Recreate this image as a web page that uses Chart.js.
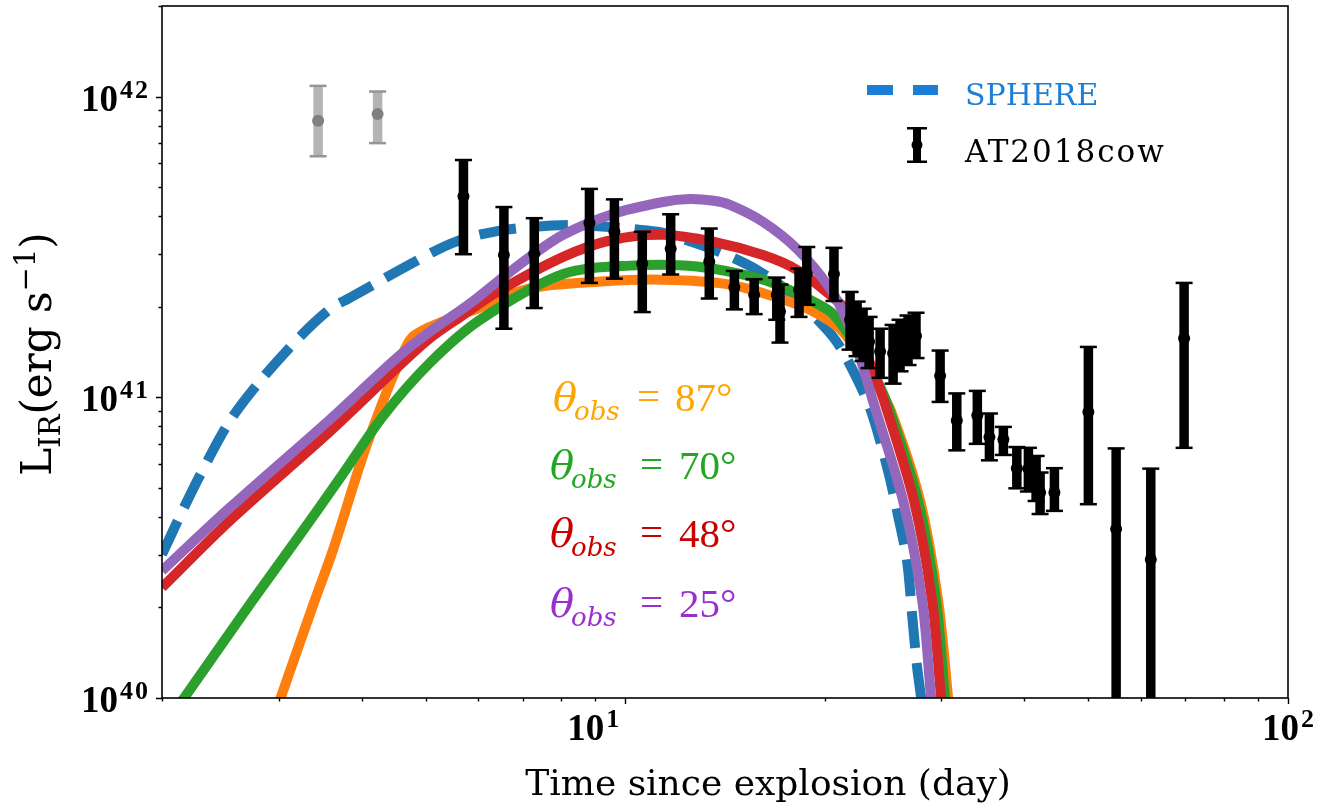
<!DOCTYPE html>
<html><head><meta charset="utf-8">
<script src="https://cdn.jsdelivr.net/npm/chart.js@4/dist/chart.umd.min.js"></script>
<style>html,body{margin:0;padding:0;background:#fff;}#wrap{width:1336px;height:808px;position:relative;}</style>
</head><body><div id="wrap"><canvas id="c" width="1336" height="808"></canvas></div>
<script>
// ---------------- data ----------------
const obsDays = [5.70, 6.56, 7.29, 8.83, 9.63, 10.61, 11.71, 13.39, 14.61, 15.65, 16.93, 17.12, 18.29, 18.79, 20.65, 21.84, 22.38, 22.85, 23.33, 24.24, 25.36, 25.98, 26.71, 27.46, 29.86, 31.64, 33.98, 35.44, 37.20, 38.98, 40.58, 41.68, 42.26, 44.42, 49.98, 55.04, 62.08, 69.70];
const obsLum = [4.66e41, 2.97e41, 3.00e41, 3.80e41, 3.55e41, 2.78e41, 3.12e41, 2.82e41, 2.32e41, 2.19e41, 2.19e41, 1.93e41, 2.28e41, 2.57e41, 2.57e41, 1.81e41, 1.72e41, 1.63e41, 1.53e41, 1.42e41, 1.40e41, 1.49e41, 1.56e41, 1.60e41, 1.18e41, 8.37e40, 8.72e40, 7.37e40, 7.24e40, 5.81e40, 5.78e40, 5.27e40, 4.82e40, 4.82e40, 8.94e40, 3.65e40, 2.89e40, 1.57e41];
const obsLow = [2.99e41, 1.69e41, 1.98e41, 2.40e41, 2.48e41, 1.92e41, 2.56e41, 2.13e41, 1.96e41, 1.89e41, 1.81e41, 1.52e41, 1.85e41, 2.03e41, 2.09e41, 1.44e41, 1.37e41, 1.32e41, 1.25e41, 1.16e41, 1.11e41, 1.22e41, 1.28e41, 1.35e41, 9.65e40, 6.66e40, 7.00e40, 6.17e40, 6.43e40, 4.98e40, 4.86e40, 4.52e40, 4.09e40, 4.19e40, 4.41e40, 5.4e39, 1.0e39, 6.79e40];
const obsHigh = [6.15e41, 4.29e41, 3.94e41, 4.93e41, 4.55e41, 3.55e41, 4.06e41, 3.64e41, 2.63e41, 2.47e41, 2.50e41, 2.37e41, 2.68e41, 3.16e41, 3.14e41, 2.24e41, 2.08e41, 1.97e41, 1.85e41, 1.69e41, 1.74e41, 1.81e41, 1.87e41, 1.91e41, 1.43e41, 1.03e41, 1.05e41, 8.83e40, 7.97e40, 6.83e40, 6.79e40, 6.38e40, 5.62e40, 5.81e40, 1.47e41, 6.76e40, 5.79e40, 2.40e41];

const earlyDays = [3.44, 4.23];
const earlyLum = [8.31e41, 8.74e41];
const earlyLow = [6.33e41, 7.00e41];
const earlyHigh = [1.085e42, 1.039e42];

const sphereDays = [2.0, 2.13, 2.28, 2.53, 2.81, 3.23, 3.59, 3.84, 4.57, 5.20, 5.70, 6.41, 7.18, 8.25, 9.48, 11.17, 12.23, 13.90, 15.81, 17.92, 19.20, 20.58, 21.61, 23.41, 24.92, 25.80, 26.62, 27.08, 27.56, 27.96, 28.4];
const sphereLum = [3.0e40, 4.04e40, 5.48e40, 8.33e40, 1.13e41, 1.59e41, 1.97e41, 2.14e41, 2.65e41, 3.09e41, 3.36e41, 3.57e41, 3.68e41, 3.74e41, 3.68e41, 3.55e41, 3.36e41, 3.04e41, 2.65e41, 2.19e41, 1.88e41, 1.59e41, 1.34e41, 9.19e40, 5.69e40, 4.04e40, 2.86e40, 1.91e40, 1.27e40, 1.0e40, 7.5e39];

const th25Days = [2.0, 2.53, 3.59, 4.52, 5.07, 5.83, 6.41, 7.18, 8.06, 9.58, 11.40, 12.50, 13.60, 14.39, 16.14, 18.17, 20.37, 21.61, 22.62, 23.65, 26.26, 28.06, 28.94, 29.3];
const th25Lum = [2.65e40, 4.29e40, 8.46e40, 1.35e41, 1.65e41, 2.05e41, 2.42e41, 2.93e41, 3.47e41, 4.07e41, 4.46e41, 4.56e41, 4.50e41, 4.36e41, 3.83e41, 3.11e41, 2.30e41, 1.79e41, 1.35e41, 9.70e40, 4.52e40, 2.11e40, 1.0e40, 7.7e39];

const th48Days = [2.0, 2.53, 3.59, 4.52, 5.07, 5.70, 6.41, 8.06, 9.58, 11.40, 13.57, 16.14, 18.17, 20.37, 21.61, 23.25, 24.58, 27.27, 29.04, 29.96, 30.3];
const th48Lum = [2.33e40, 3.88e40, 7.72e40, 1.25e41, 1.57e41, 1.88e41, 2.24e41, 2.93e41, 3.34e41, 3.47e41, 3.29e41, 2.97e41, 2.65e41, 2.19e41, 1.93e41, 1.35e41, 9.70e40, 4.52e40, 2.11e40, 1.0e40, 7.7e39];

const th70Days = [2.0, 2.16, 2.74, 3.20, 3.75, 4.31, 5.07, 6.04, 8.06, 10.17, 12.83, 16.14, 18.17, 20.37, 21.31, 23.58, 24.92, 27.66, 29.44, 30.37, 31.0];
const th70Lum = [7.9e39, 1.0e40, 2.11e40, 3.39e40, 5.56e40, 8.65e40, 1.30e41, 1.81e41, 2.57e41, 2.74e41, 2.72e41, 2.46e41, 2.21e41, 1.93e41, 1.72e41, 1.22e41, 9.34e40, 4.52e40, 2.11e40, 1.0e40, 6.2e39];

const th87Days = [2.95, 3.02, 3.40, 3.62, 4.02, 4.31, 4.52, 4.78, 5.38, 5.98, 7.18, 9.07, 11.40, 14.39, 17.12, 19.20, 21.31, 23.82, 25.18, 27.86, 29.65, 30.70, 31.3];
const th87Lum = [8.6e39, 1.0e40, 2.11e40, 3.09e40, 6.38e40, 9.70e40, 1.25e41, 1.59e41, 1.81e41, 1.97e41, 2.30e41, 2.42e41, 2.46e41, 2.37e41, 2.13e41, 1.93e41, 1.65e41, 1.13e41, 8.99e40, 4.52e40, 2.11e40, 1.0e40, 6.2e39];

const xTickValues = [10, 100];
const xTickExps = ['1', '2'];
const yTickValues = [1e40, 1e41, 1e42];
const yTickExps = ['40', '41', '42'];
const angleLabels = ['87°', '70°', '48°', '25°'];
const angleColors = ['#ffa500', '#22a722', '#c80000', '#9a2fcf'];
const xTitle = 'Time since explosion (day)';

// ---------------- helpers ----------------
const pts = (xs, ys) => xs.map((x, i) => ({x: x, y: ys[i]}));
function lineDs(label, xs, ys, color, order, dash) {
  return {label, data: pts(xs, ys), showLine: true, borderColor: color, backgroundColor: color,
    borderWidth: 10, pointRadius: 0, borderCapStyle: 'butt', borderJoinStyle: 'round',
    tension: 0.3, borderDash: dash || [], clip: 0, order};
}

const errPlugin = {
  id: 'errbars',
  beforeDatasetDraw(chart, args) {
    const ds = chart.data.datasets[args.index];
    if (!ds.errLow) return;
    const xs = chart.scales.x, ys = chart.scales.y, ca = chart.chartArea, ctx = chart.ctx;
    ctx.save();
    ctx.beginPath(); ctx.rect(ca.left, ca.top, ca.right - ca.left, ca.bottom - ca.top); ctx.clip();
    ds.data.forEach((p, i) => {
      const px = xs.getPixelForValue(p.x);
      const y1 = ys.getPixelForValue(ds.errLow[i]);
      const y2 = ys.getPixelForValue(ds.errHigh[i]);
      ctx.fillStyle = ds.barColor;
      ctx.fillRect(px - 4.75, y2, 9.5, y1 - y2);
      ctx.fillStyle = ds.capColor;
      ctx.fillRect(px - 8.5, y2 - 1.25, 17, 2.5);
      ctx.fillRect(px - 8.5, y1 - 1.25, 17, 2.5);
    });
    ctx.restore();
  }
};

function drawPow(ctx, base, exp, x, baseY, supY, align) {
  ctx.font = 'bold 37px "Liberation Serif"';
  const wb = ctx.measureText(base).width;
  ctx.font = 'bold 26px "Liberation Serif"';
  const we = ctx.measureText(exp).width + 2 + (exp.length - 1) * 2;
  let left = x;
  if (align === 'right') left = x - wb - we;
  else if (align === 'center') left = x - (wb + we) / 2;
  ctx.textAlign = 'left'; ctx.textBaseline = 'alphabetic';
  ctx.font = 'bold 37px "Liberation Serif"';
  ctx.fillText(base, left, baseY);
  ctx.font = 'bold 26px "Liberation Serif"';
  let cx = left + wb + 2;
  for (const ch of exp) { ctx.fillText(ch, cx, supY); cx += ctx.measureText(ch).width + 2; }
}

const decorPlugin = {
  id: 'decor',
  afterDraw(chart) {
    const ctx = chart.ctx, ca = chart.chartArea, xs = chart.scales.x, ys = chart.scales.y;
    ctx.save();
    ctx.fillStyle = '#000'; ctx.strokeStyle = '#000';
    ctx.lineWidth = 1.6;
    ctx.strokeRect(ca.left, ca.top, ca.right - ca.left, ca.bottom - ca.top);
    ctx.lineWidth = 1.4;
    ctx.beginPath();
    for (let e = 40; e <= 42; e++) {
      for (let m = 1; m <= 9; m++) {
        const v = m * Math.pow(10, e);
        if (v < ys.min * 0.999 || v > ys.max * 1.001) continue;
        const py = Math.round(ys.getPixelForValue(v)) + 0.5;
        const len = m === 1 ? 6 : 3.5;
        ctx.moveTo(ca.left, py); ctx.lineTo(ca.left - len, py);
      }
    }
    for (let e = 0; e <= 2; e++) {
      for (let m = 1; m <= 9; m++) {
        const v = m * Math.pow(10, e);
        if (v < xs.min * 0.999 || v > xs.max * 1.001) continue;
        const px = Math.round(xs.getPixelForValue(v)) + 0.5;
        const len = m === 1 ? 6 : 3.5;
        ctx.moveTo(px, ca.bottom); ctx.lineTo(px, ca.bottom + len);
      }
    }
    ctx.stroke();
    yTickValues.forEach((v, i) => {
      const py = ys.getPixelForValue(v);
      drawPow(ctx, '10', yTickExps[i], ca.left - 14, py + 14, py + 1, 'right');
    });
    const xLabelShift = [-32, 0];
    xTickValues.forEach((v, i) => {
      const px = xs.getPixelForValue(v) + xLabelShift[i];
      drawPow(ctx, '10', xTickExps[i], px, ca.bottom + 42, ca.bottom + 29, 'center');
    });
    ctx.font = '36px "DejaVu Serif"';
    ctx.textAlign = 'center'; ctx.textBaseline = 'alphabetic';
    ctx.fillText(xTitle, 768, 795);
    // y title (rotated)
    ctx.save();
    ctx.translate(51, 354);
    ctx.rotate(-Math.PI / 2);
    const parts = [
      {t: 'L', f: '42px "DejaVu Serif"', dy: 0},
      {t: 'IR', f: '29px "DejaVu Serif"', dy: 9},
      {t: '(erg s', f: '42px "DejaVu Serif"', dy: 0},
      {t: '\u22121', f: '29px "DejaVu Serif"', dy: -16},
      {t: ')', f: '42px "DejaVu Serif"', dy: 0}
    ];
    let tw = 0;
    parts.forEach(p => { ctx.font = p.f; p.w = ctx.measureText(p.t).width; tw += p.w; });
    let cx = -tw / 2;
    ctx.textAlign = 'left';
    parts.forEach(p => { ctx.font = p.f; ctx.fillText(p.t, cx, p.dy); cx += p.w; });
    ctx.restore();
    // legend
    ctx.fillStyle = '#1c7ed6';
    ctx.fillRect(867, 85, 26, 10);
    ctx.fillRect(913, 85, 25, 10);
    ctx.font = '30px "DejaVu Serif"';
    ctx.textAlign = 'left';
    ctx.fillText('SPHERE', 965, 105);
    ctx.fillStyle = '#000';
    ctx.fillRect(913, 128, 8, 34);
    ctx.fillRect(907, 127, 20, 2.5);
    ctx.fillRect(907, 160.5, 20, 2.5);
    ctx.beginPath(); ctx.arc(917, 145, 5.5, 0, Math.PI * 2); ctx.fill();
    ctx.font = '31px "DejaVu Serif"';
    try { ctx.letterSpacing = '2px'; } catch (e) {}
    ctx.fillText('AT2018cow', 965, 162);
    try { ctx.letterSpacing = '0px'; } catch (e) {}
    // angle annotations
    const rowsY = [411, 479, 547, 617];
    angleLabels.forEach((lab, i) => {
      const by = rowsY[i];
      const x0 = i === 0 ? 553 : 550;
      ctx.fillStyle = angleColors[i];
      ctx.font = 'italic 40px "DejaVu Serif"';
      ctx.fillText('\u03b8', x0, by);
      ctx.font = 'italic 26px "DejaVu Serif"';
      ctx.fillText('obs', x0 + 21, by + 9);
      ctx.font = '41px "Liberation Serif"';
      ctx.fillText('=', i === 0 ? 637 : 640, by - 1);
      ctx.fillText(lab, i === 0 ? 675 : 679, by);
    });
    ctx.restore();
  }
};

const datasets = [
  {label: 'AT2018cow', data: pts(obsDays, obsLum), errLow: obsLow, errHigh: obsHigh,
   barColor: '#000', capColor: '#000', pointRadius: 6, pointBackgroundColor: '#000', pointBorderWidth: 0, showLine: false, order: 0, clip: 0},
  {label: 'early', data: pts(earlyDays, earlyLum), errLow: earlyLow, errHigh: earlyHigh,
   barColor: '#b4b4b4', capColor: '#959595', pointRadius: 6, pointBackgroundColor: '#808080', pointBorderWidth: 0, showLine: false, order: 0, clip: 0},
  lineDs('25', th25Days, th25Lum, '#9467bd', 1),
  lineDs('48', th48Days, th48Lum, '#d62728', 2),
  lineDs('70', th70Days, th70Lum, '#2ca02c', 3),
  lineDs('87', th87Days, th87Lum, '#ff7f0e', 4),
  lineDs('SPHERE', sphereDays, sphereLum, '#1f77b4', 5, [37, 15])
];

new Chart(document.getElementById('c'), {
  type: 'scatter',
  data: {datasets},
  options: {
    responsive: false, animation: false, devicePixelRatio: 1,
    layout: {padding: {left: 162, top: 3, right: 48, bottom: 110}},
    plugins: {legend: {display: false}, tooltip: {enabled: false}},
    scales: {
      x: {type: 'logarithmic', min: 2, max: 100, display: false},
      y: {type: 'logarithmic', min: 1e40, max: 2e42, display: false}
    }
  },
  plugins: [errPlugin, decorPlugin]
});
</script></body></html>
